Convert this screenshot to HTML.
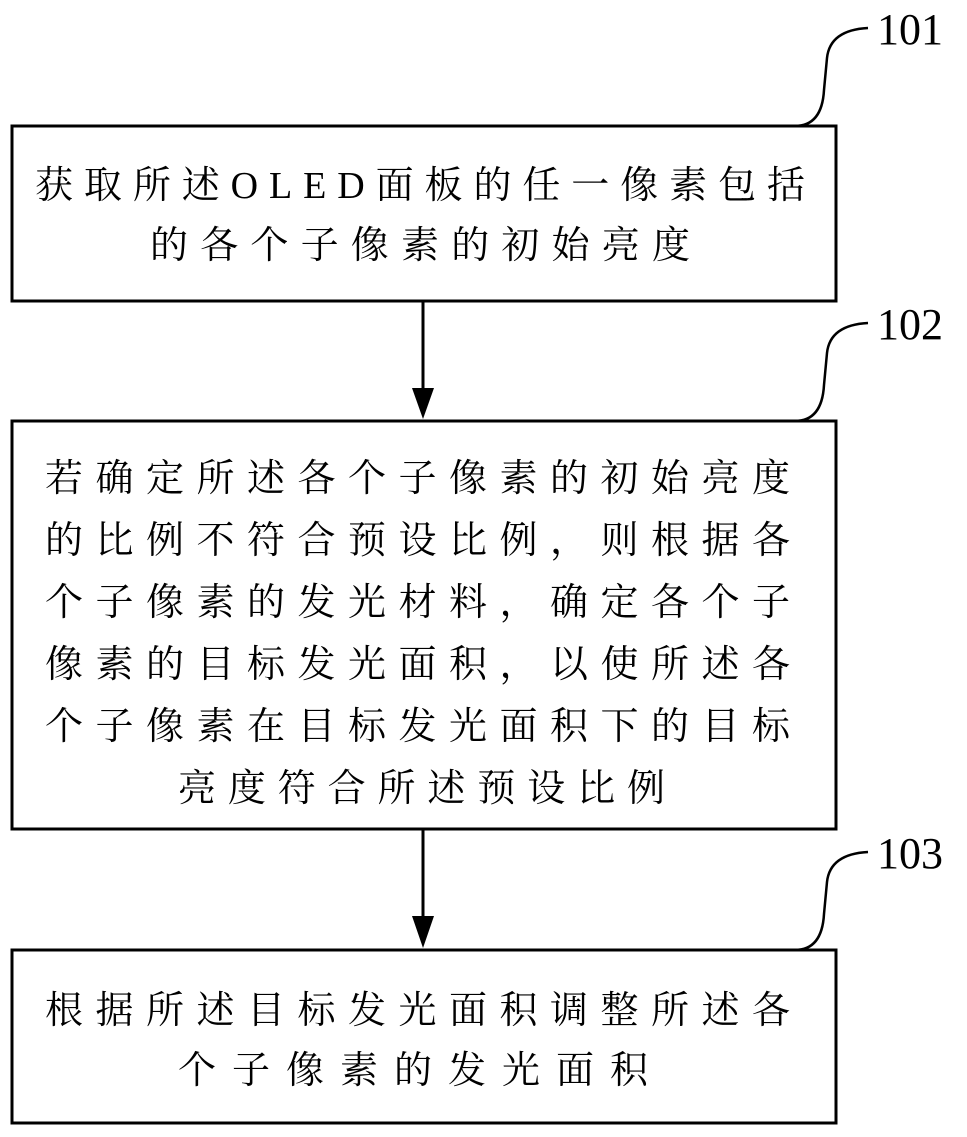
<!DOCTYPE html>
<html><head><meta charset="utf-8"><style>
html,body{margin:0;padding:0;background:#fff;}
svg{display:block;}
text{font-family:"Liberation Serif","Noto Serif CJK SC",serif;fill:#000;}
</style></head><body>
<svg width="967" height="1137" viewBox="0 0 967 1137" xmlns="http://www.w3.org/2000/svg">
<g fill="none" stroke="#000" stroke-width="3">
<rect x="12" y="126" width="824" height="175"/>
<rect x="12" y="421" width="824" height="408"/>
<rect x="12" y="950" width="824" height="173"/>
<line x1="423" y1="301" x2="423" y2="392"/>
<line x1="423" y1="829" x2="423" y2="920"/>
<path d="M795 126 Q822 126 824 90 L827 58 Q830 30 868 28" stroke-width="2.5"/>
<path d="M795 421 Q822 421 824 385 L827 353 Q830 325 868 323" stroke-width="2.5"/>
<path d="M795 950 Q822 950 824 914 L827 882 Q830 854 868 852" stroke-width="2.5"/>
</g>
<polygon points="412,388 434,388 423,419" fill="#000"/>
<polygon points="412,916 434,916 423,948" fill="#000"/>
<g font-size="44">
<text x="877" y="44">101</text>
<text x="877" y="339">102</text>
<text x="877" y="868">103</text>
</g>
<g font-size="38">
<text x="35" y="198" textLength="770" lengthAdjust="spacing">获取所述OLED面板的任一像素包括</text>
<text x="150" y="258" textLength="540" lengthAdjust="spacing">的各个子像素的初始亮度</text>
<text x="45" y="491" textLength="745" lengthAdjust="spacing">若确定所述各个子像素的初始亮度</text>
<text x="45" y="553" textLength="745" lengthAdjust="spacing">的比例不符合预设比例，则根据各</text>
<text x="45" y="615" textLength="745" lengthAdjust="spacing">个子像素的发光材料，确定各个子</text>
<text x="45" y="677" textLength="745" lengthAdjust="spacing">像素的目标发光面积，以使所述各</text>
<text x="45" y="739" textLength="745" lengthAdjust="spacing">个子像素在目标发光面积下的目标</text>
<text x="178" y="801" textLength="487" lengthAdjust="spacing">亮度符合所述预设比例</text>
<text x="45" y="1023" textLength="745" lengthAdjust="spacing">根据所述目标发光面积调整所述各</text>
<text x="178" y="1083" textLength="470" lengthAdjust="spacing">个子像素的发光面积</text>
</g>
</svg>
</body></html>
